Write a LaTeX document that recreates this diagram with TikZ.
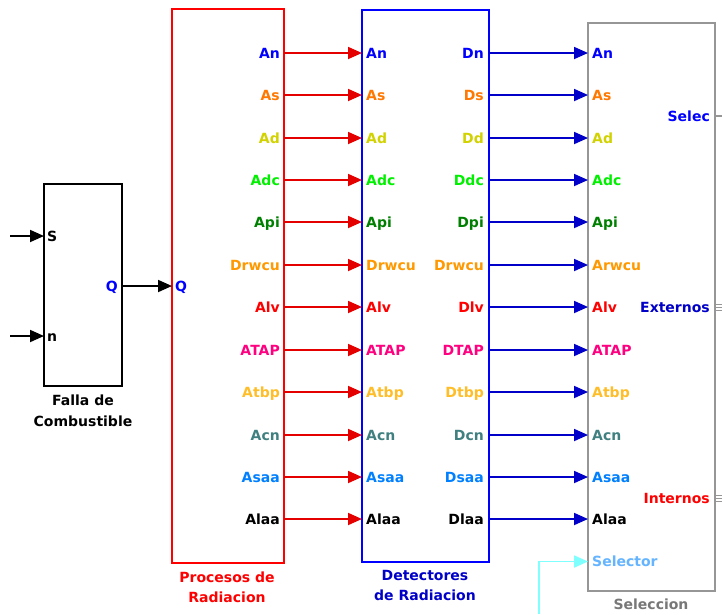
\documentclass[tikz,border=0pt]{standalone}
\usepackage{fontspec}
\setmainfont{DejaVu Sans}
\usetikzlibrary{arrows.meta}
\definecolor{cBlue}{RGB}{0,0,255}
\definecolor{cDBlue}{RGB}{0,0,200}
\definecolor{cOrange}{RGB}{255,120,0}
\definecolor{cYel}{RGB}{210,210,0}
\definecolor{cLGreen}{RGB}{0,240,0}
\definecolor{cDGreen}{RGB}{0,128,0}
\definecolor{cOr2}{RGB}{255,153,0}
\definecolor{cRed}{RGB}{255,0,0}
\definecolor{cPink}{RGB}{255,0,128}
\definecolor{cGold}{RGB}{255,190,40}
\definecolor{cTeal}{RGB}{64,128,128}
\definecolor{cSky}{RGB}{0,128,255}
\definecolor{cSel}{RGB}{100,180,255}
\definecolor{cCyan}{RGB}{128,255,255}
\definecolor{cGray}{RGB}{150,150,150}
\definecolor{cCap}{RGB}{120,120,120}
\tikzset{
  lbl/.style={font=\fontsize{14}{16}\selectfont\bfseries, inner sep=0pt},
  captxt/.style={font=\fontsize{14}{20.5}\selectfont\bfseries, align=center, inner sep=0pt},
  blk/.style={fill=white, inner sep=0pt},
  arr/.style={-{Triangle[length=14pt,width=12pt]}, line width=1.8pt},
}
\begin{document}
\begin{tikzpicture}[x=1pt,y=-1pt]
\useasboundingbox (0,0) rectangle (722,614);
\fill[white] (0,0) rectangle (722,614);
% blocks
\node[blk, line width=1.4pt, draw=black, minimum width=78pt, minimum height=202pt] (falla) at (83,285) {};
\node[blk, line width=1.6pt, draw=cRed, minimum width=112pt, minimum height=554pt] (proc) at (228,286) {};
\node[blk, line width=1.6pt, draw=cBlue, minimum width=127pt, minimum height=552pt] (det) at (425.5,286) {};
\node[blk, line width=2pt, draw=cGray, minimum width=127pt, minimum height=568pt] (sel) at (651.5,307) {};
% captions
\node[captxt, black] (cf) at (83,411) {Falla de\\Combustible};
\node[captxt, cRed] (cp) at (227,587.5) {Procesos de\\Radiacion};
\node[captxt, cDBlue] (cd) at (425,585.5) {Detectores\\de Radiacion};
\node[captxt, cCap] (cs) at (651,604) {Seleccion};
% Falla ports
\coordinate (sSrc) at (10,236);
\coordinate (nSrc) at (10,336);
\coordinate (fS) at (44,236);
\coordinate (fN) at (44,336);
\coordinate (fQ) at (122,286);
\coordinate (pQ) at (172,286);
\node[lbl, black, anchor=base west] (lS) at (47,241) {S};
\node[lbl, black, anchor=base west] (lN) at (47,341) {n};
\node[lbl, cBlue, anchor=base east] (lQ1) at (118,291) {Q};
\node[lbl, cBlue, anchor=base west] (lQ2) at (175,291) {Q};
\draw[arr, black] (sSrc) -- (fS);
\draw[arr, black] (nSrc) -- (fN);
\draw[arr, black] (fQ) -- (pQ);
% signal rows
\foreach \i/\yy/\a/\d/\b/\c in {1/53/An/Dn/An/cBlue, 2/95/As/Ds/As/cOrange, 3/138/Ad/Dd/Ad/cYel, 4/180/Adc/Ddc/Adc/cLGreen, 5/222/Api/Dpi/Api/cDGreen, 6/265/Drwcu/Drwcu/Arwcu/cOr2, 7/307/Alv/Dlv/Alv/cRed, 8/350/ATAP/DTAP/ATAP/cPink, 9/392/Atbp/Dtbp/Atbp/cGold, 10/435/Acn/Dcn/Acn/cTeal, 11/477/Asaa/Dsaa/Asaa/cSky, 12/519/Alaa/Dlaa/Alaa/black}{
  \coordinate (po\i) at (284,\yy);
  \coordinate (di\i) at (362,\yy);
  \coordinate (do\i) at (489,\yy);
  \coordinate (si\i) at (588,\yy);
  \node[lbl, text=\c, anchor=base east] (lp\i) at (280,\yy+5) {\a};
  \node[lbl, text=\c, anchor=base west] (ldi\i) at (366,\yy+5) {\a};
  \node[lbl, text=\c, anchor=base east] (ldo\i) at (484,\yy+5) {\d};
  \node[lbl, text=\c, anchor=base west] (ls\i) at (592,\yy+5) {\b};
  \draw[arr, red!90!black] (po\i) -- (di\i);
  \draw[arr, cDBlue] (do\i) -- (si\i);
}
% selector input
\coordinate (selSrc) at (539,614);
\coordinate (selIn) at (588,561.5);
\node[lbl, cSel, anchor=base west] (lsel) at (592,566.5) {Selector};
\draw[arr, cCyan] (selSrc) |- (selIn);
% outputs of Seleccion
\node[lbl, cBlue, anchor=base east] (lselec) at (710,121) {Selec};
\node[lbl, cDBlue, anchor=base east] (lext) at (710,312) {Externos};
\node[lbl, cRed, anchor=base east] (lint) at (710,503) {Internos};
\coordinate (oSel) at (722,116);
\draw[cGray, line width=1.2pt] (sel.east |- oSel) -- (oSel);
\foreach \yy in {304,307,310}{
  \coordinate (oE) at (722,\yy);
  \draw[cGray, line width=0.9pt] (sel.east |- oE) -- (oE);
}
\foreach \yy in {495,498,501}{
  \coordinate (oI) at (722,\yy);
  \draw[cGray, line width=0.9pt] (sel.east |- oI) -- (oI);
}
\end{tikzpicture}
\end{document}
